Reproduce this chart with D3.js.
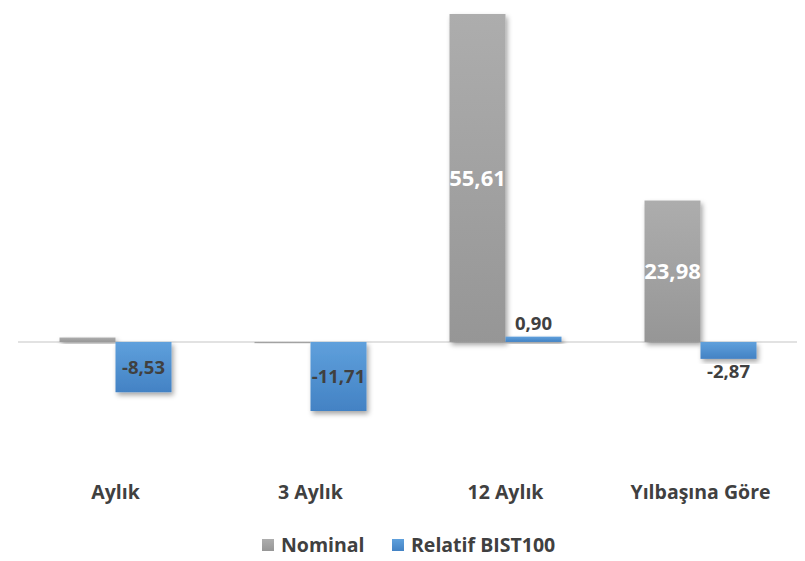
<!DOCTYPE html>
<html>
<head>
<meta charset="utf-8">
<script src="https://cdn.jsdelivr.net/npm/d3@7"></script>
<style>
  body { margin: 0; background: #fff; }
  text { font-family: "Open Sans", Lato, sans-serif; font-weight: bold; }
</style>
</head>
<body>
<svg id="chart"></svg>
<script>
// veriler
var categories = ["Aylık", "3 Aylık", "12 Aylık", "Yılbaşına Göre"];
var seriesNames = ["Nominal", "Relatif BIST100"];
var nominal = [0.75, -0.2, 55.61, 23.98];
var relatif = [-8.53, -11.71, 0.90, -2.87];

var width = 805, height = 561;
var svg = d3.select("#chart").attr("width", width).attr("height", height);

var defs = svg.append("defs");
function grad(id, c0, c1) {
    var g = defs.append("linearGradient").attr("id", id)
        .attr("x1", 0).attr("y1", 0).attr("x2", 0).attr("y2", 1);
    g.append("stop").attr("offset", "0%").attr("stop-color", c0);
    g.append("stop").attr("offset", "100%").attr("stop-color", c1);
}
grad("gGray", "#adadad", "#969696");
grad("gBlue", "#5fa0dc", "#4382c4");
var f = defs.append("filter").attr("id", "shadow")
    .attr("x", "-20%").attr("y", "-20%").attr("width", "150%").attr("height", "150%");
f.append("feDropShadow").attr("dx", 2).attr("dy", 3).attr("stdDeviation", 2.5)
    .attr("flood-color", "#000").attr("flood-opacity", 0.35);

var x0 = d3.scaleBand().domain(categories).range([18, 798]).paddingInner(0).paddingOuter(0);
var x1 = d3.scaleBand().domain(seriesNames).range([0, 112]);
var y = d3.scaleLinear().domain([-11.71, 55.61]).range([411, 14]);

var colors = ["url(#gGray)", "url(#gBlue)"];
var rows = categories.map(function(c, i) {
    return [
        {cat: c, s: seriesNames[0], v: nominal[i], k: 0},
        {cat: c, s: seriesNames[1], v: relatif[i], k: 1}
    ];
});

// sıfır çizgisi
svg.append("line")
    .attr("x1", 18).attr("x2", 797)
    .attr("y1", y(0)).attr("y2", y(0))
    .attr("stroke", "#d9d9d9").attr("stroke-width", 1.5);

var g = svg.append("g").selectAll("g")
    .data(rows).enter().append("g")
    .attr("transform", function(d) {
        return "translate(" + (x0(d[0].cat) + x0.bandwidth() / 2 - 56) + ",0)";
    });

g.selectAll("rect")
    .data(function(d) { return d; })
    .enter().append("rect")
    .attr("x", function(d) { return x1(d.s); })
    .attr("width", x1.bandwidth())
    .attr("y", function(d) { return d.v >= 0 ? y(d.v) : y(0); })
    .attr("height", function(d) { return Math.max(1, Math.abs(y(d.v) - y(0))); })
    .attr("fill", function(d) { return colors[d.k]; })
    .attr("filter", "url(#shadow)");

var fmt = function(v) { return d3.format(".2f")(v).replace(".", ",").replace("\u2212", "-"); };

g.selectAll("text.val")
    .data(function(d) { return d; })
    .enter().append("text")
    .attr("class", "val")
    .attr("text-anchor", "middle")
    .attr("x", function(d) { return x1(d.s) + x1.bandwidth() / 2; })
    .attr("y", function(d) {
        var h = Math.abs(y(d.v) - y(0));
        if (h > 30) return (y(d.v) + y(0)) / 2;
        return d.v >= 0 ? y(d.v) - 13 : y(d.v) + 13;
    })
    .attr("dy", "0.35em")
    .attr("font-size", function(d) { return d.k == 0 ? 22 : 18.5; })
    .attr("fill", function(d) { return d.k == 0 ? "#ffffff" : "#404040"; })
    .text(function(d) { return fmt(d.v); });

// kategori etiketleri
svg.append("g").selectAll("text")
    .data(categories).enter().append("text")
    .attr("x", function(d) { return x0(d) + x0.bandwidth() / 2; })
    .attr("y", 492)
    .attr("dy", "0.35em")
    .attr("text-anchor", "middle")
    .attr("font-size", 19.5)
    .attr("fill", "#404040")
    .text(function(d) { return d; });

// lejant
var lx = [262, 392];
var leg = svg.append("g").selectAll("g")
    .data(seriesNames).enter().append("g")
    .attr("transform", function(d, i) { return "translate(" + lx[i] + ",539)"; });
leg.append("rect").attr("width", 12).attr("height", 12)
    .attr("fill", function(d, i) { return colors[i]; });
leg.append("text").attr("x", 19).attr("y", 6).attr("dy", "0.35em")
    .attr("font-size", 19.5).attr("fill", "#404040")
    .text(function(d) { return d; });
</script>
</body>
</html>
